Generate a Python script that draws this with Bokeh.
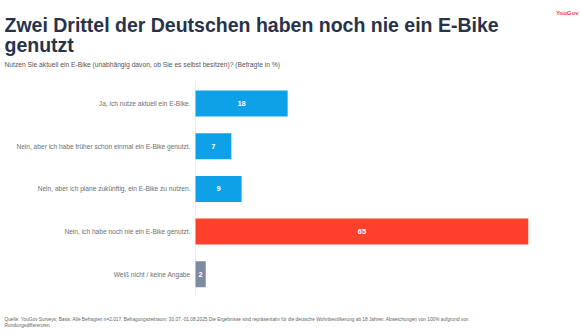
from bokeh.plotting import figure
from bokeh.models import Range1d, Label, ColumnDataSource
from bokeh.embed import file_html
from bokeh.resources import INLINE

title_lines = ["Zwei Drittel der Deutschen haben noch nie ein E-Bike", "genutzt"]
subtitle = "Nutzen Sie aktuell ein E-Bike (unabhängig davon, ob Sie es selbst besitzen)? (Befragte in %)"
categories = [
    "Ja, ich nutze aktuell ein E-Bike.",
    "Nein, aber ich habe früher schon einmal ein E-Bike genutzt.",
    "Nein, aber ich plane zukünftig, ein E-Bike zu nutzen.",
    "Nein, ich habe noch nie ein E-Bike genutzt.",
    "Weiß nicht / keine Angabe",
]
values = [18, 7, 9, 65, 2]
colors = ["#0FA1E8", "#0FA1E8", "#0FA1E8", "#FF412C", "#7F8AA3"]
footer_lines = [
    "Quelle: YouGov Surveys; Basis: Alle Befragten n=2.017. Befragungszeitraum: 30.07.-01.08.2025 Die Ergebnisse sind repräsentativ für die deutsche Wohnbevölkerung ab 18 Jahren. Abweichungen von 100% aufgrund von",
    "Rundungsdifferenzen.",
]

W, H = 580, 333
X0 = 195.0      # pixel of value 0
KX = 5.12       # pixels per percent
Y0 = 103.0      # pixel (from top) of first bar centre
KY = 42.7       # pixels between bars

def px_x(px):
    return (px - X0) / KX

def px_y(py):
    return (py - Y0) / KY

p = figure(width=W, height=H, output_backend="svg", toolbar_location=None,
           x_range=Range1d(px_x(0), px_x(W)), y_range=Range1d(px_y(H), px_y(0)),
           min_border=0, outline_line_color=None)
p.axis.visible = False
p.grid.visible = False
p.background_fill_color = "white"
p.border_fill_color = "white"

idx = list(range(len(categories)))
src = ColumnDataSource(dict(y=idx, v=values, c=colors, cat=categories,
                            lab=[str(v) for v in values], mid=[v / 2 for v in values]))

# faint baseline
p.segment(x0=0, x1=0, y0=-0.5, y1=len(categories) - 0.5, line_color="#EEEEEE", line_width=1)

p.hbar(y="y", left=0, right="v", height=0.61, fill_color="c", line_color=None, source=src)
p.text(x="mid", y="y", text="lab", source=src, text_align="center", text_baseline="middle",
       text_color="white", text_font_size="7.5px", text_font_style="bold",
       text_font={"value": "Liberation Sans"})
p.text(x=px_x(190), y="y", text="cat", source=src, text_align="right", text_baseline="middle",
       text_color="#6F6F6F", text_font_size="6.6px", text_font={"value": "Liberation Sans"})

for i, t in enumerate(title_lines):
    p.add_layout(Label(x=px_x(4), y=px_y(24.5 + 19.5 * i), text=t, text_font="Liberation Sans",
                       text_font_style="bold", text_font_size="19.5px", text_color="#28324A",
                       text_baseline="alphabetic"))
p.add_layout(Label(x=px_x(4), y=px_y(64), text=subtitle, text_font="Liberation Sans",
                   text_font_size="6.7px", text_color="#555555", text_baseline="alphabetic"))
p.add_layout(Label(x=px_x(578), y=px_y(12), text="YouGov", text_font="Liberation Sans",
                   text_font_style="bold", text_font_size="6px", text_color="#FF412C",
                   text_align="right", text_baseline="alphabetic"))
for i, t in enumerate(footer_lines):
    p.add_layout(Label(x=px_x(4), y=px_y(319 + 6 * i), text=t, text_font="Liberation Sans",
                       text_font_size="4.75px", text_color="#666666", text_baseline="alphabetic"))

open("out.html", "w").write(file_html(p, INLINE))
